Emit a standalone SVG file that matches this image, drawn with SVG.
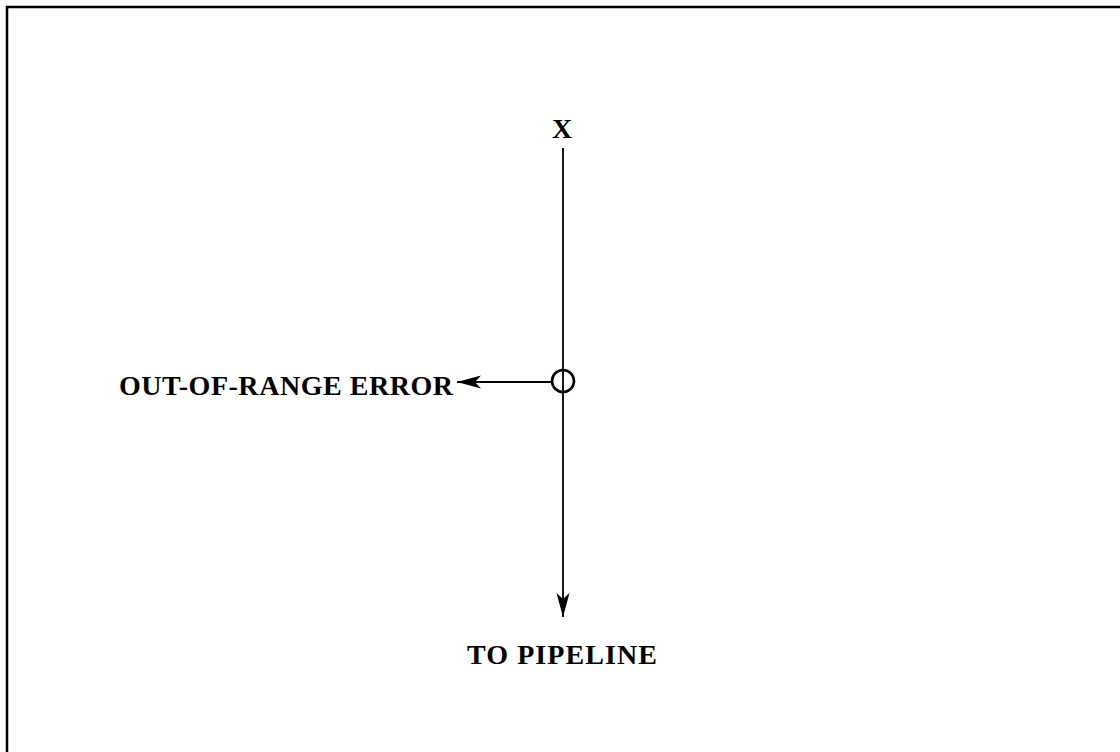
<svg xmlns="http://www.w3.org/2000/svg" width="1120" height="752" viewBox="0 0 1120 752">
<style>
.t{font-family:"Liberation Serif","Times New Roman",serif;font-weight:bold;fill:#000;font-size:28px}
.ln{stroke:#000;stroke-width:1.8;fill:none}
</style>
<defs>
<marker id="ah" markerWidth="26" markerHeight="14" refX="24" refY="7" orient="auto" markerUnits="userSpaceOnUse">
<path d="M0,0.5 L24,7 L0,13.5 L6,7 Z" fill="#000"/>
</marker>
</defs>
<rect x="0" y="0" width="1120" height="752" fill="#fff"/>
<rect id="frame" x="7" y="7" width="1130" height="770" fill="none" stroke="#000" stroke-width="2.5"/>
<g id="connectors">
<line class="ln" x1="563" y1="148" x2="563" y2="617" marker-end="url(#ah)"/>
<line class="ln" x1="551" y1="382" x2="457" y2="382" marker-end="url(#ah)"/>
</g>
<g id="junction">
<circle cx="563" cy="381" r="11" fill="none" stroke="#000" stroke-width="2.6"/>
</g>
<g id="input"><text class="t" x="562" y="138" text-anchor="middle">X</text></g>
<g id="error"><text class="t" x="119" y="395" textLength="334" lengthAdjust="spacing">OUT-OF-RANGE ERROR</text></g>
<g id="output"><text class="t" x="467" y="664" textLength="190" lengthAdjust="spacing">TO PIPELINE</text></g>
</svg>
